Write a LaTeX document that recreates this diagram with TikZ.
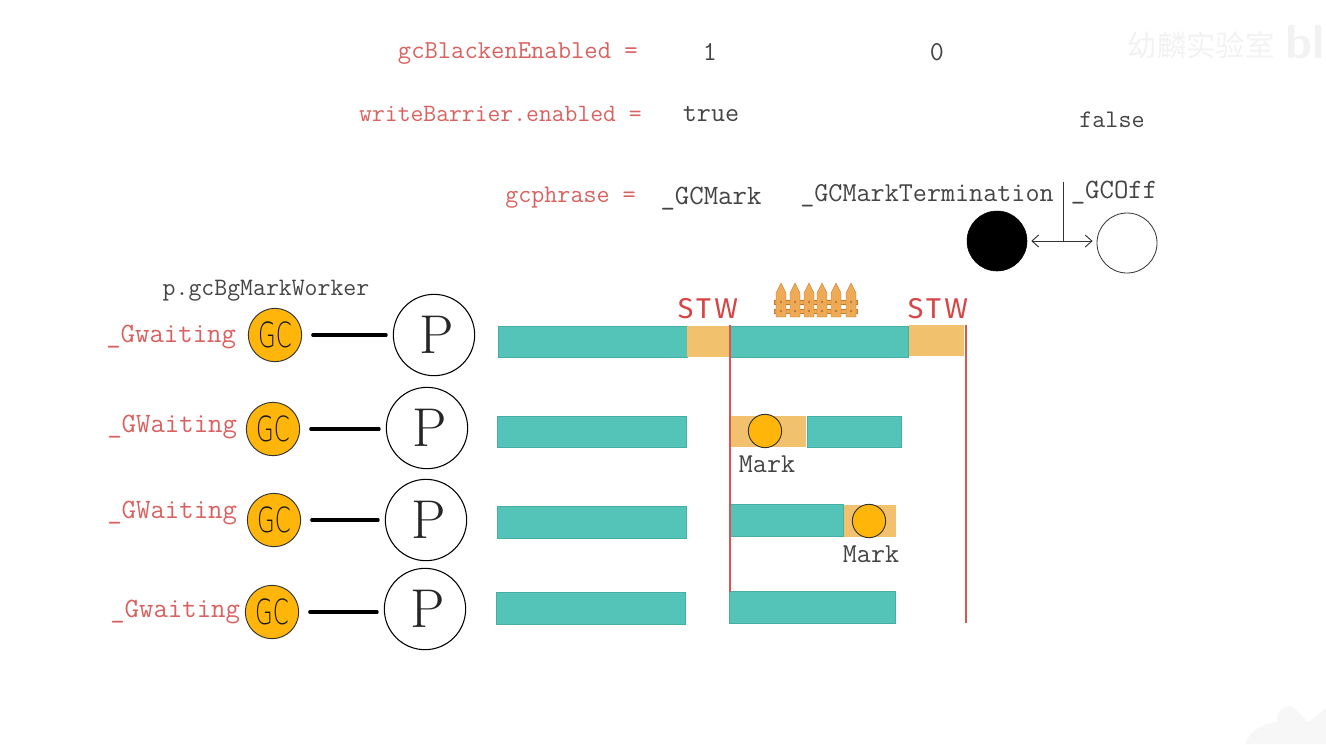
\documentclass[tikz,border=0pt]{standalone}
\usepackage{xcolor}
\usepackage{fontspec}
\usetikzlibrary{arrows.meta, positioning, calc}
\newfontfamily\cjkfont{Noto Sans CJK SC}
\newfontfamily\stwfont[LetterSpace=12]{Fira Sans}
\newfontfamily\gcfont[FakeStretch=0.66]{DejaVu Sans ExtraLight}
\definecolor{labelred}{RGB}{217, 98, 96}
\definecolor{linered}{RGB}{219, 84, 84}
\definecolor{stwred}{RGB}{214, 70, 70}
\definecolor{textgray}{RGB}{68, 68, 68}
\definecolor{barteal}{RGB}{84, 195, 184}
\definecolor{tealedge}{RGB}{70, 175, 165}
\definecolor{barorange}{RGB}{241, 193, 110}
\definecolor{gcyellow}{RGB}{255, 181, 10}
\definecolor{fenceorange}{RGB}{238, 170, 85}
\definecolor{fenceedge}{RGB}{190, 120, 50}
\tikzset{
    codetext/.style={text=textgray, inner sep=0pt, font=\ttfamily\fontsize{20.5}{22}\selectfont},
    redtext/.style={text=labelred, inner sep=0pt, font=\ttfamily\fontsize{19}{22}\selectfont},
    statetext/.style={text=labelred, inner sep=0pt, font=\ttfamily\fontsize{21}{22}\selectfont},
    stwtext/.style={text=stwred, inner sep=0pt, font=\stwfont\fontsize{21.5}{22}\selectfont},
    gcnode/.style={circle, draw=black!80, fill=gcyellow, line width=0.7pt, minimum size=40pt, inner sep=0pt,
        text=black!90, font=\gcfont\fontsize{26}{26}\selectfont},
    pnode/.style={circle, draw=black, fill=white, line width=0.8pt, minimum size=61pt, inner sep=0pt,
        text=black!85, font=\rmfamily\fontsize{41}{41}\selectfont},
    marknode/.style={circle, draw=black!80, fill=gcyellow, line width=0.7pt, minimum size=25pt, inner sep=0pt},
    tealbar/.style={draw=tealedge, fill=barteal, line width=0.4pt},
    orangebar/.style={fill=barorange},
    gcline/.style={line width=2.4pt, line cap=round, shorten >=5pt, shorten <=8pt},
    picket/.style={draw=fenceedge, fill=fenceorange, line width=0.3pt}
}

\begin{document}
\begin{tikzpicture}[x=0.75pt, y=-0.75pt]
    \useasboundingbox (0,0) rectangle (1326,744);

    % watermark
    \node[text=black!5, inner sep=0pt, font=\cjkfont\fontsize{22}{22}\selectfont] (mark) at (1201,45) {幼麟实验室};
    \node[text=black!5, inner sep=0pt, anchor=east, font=\sffamily\bfseries\fontsize{36}{36}\selectfont] (logo) at (1325,42) {bl};
    \fill[black!3] (1245,744) .. controls (1250,730) and (1265,722) .. (1278,722) .. controls (1274,712) and (1286,702) .. (1294,708)
        -- (1308,722) -- (1326,708) -- (1326,744) -- cycle;

    % top labels
    \node[redtext, anchor=east, font=\ttfamily\fontsize{19.4}{22}\selectfont] (blackenlabel) at (638,54) {gcBlackenEnabled =};
    \node[redtext, anchor=east, font=\ttfamily\fontsize{18.7}{22}\selectfont] (barrierlabel) at (642,114) {writeBarrier.enabled =};
    \node[redtext, anchor=east] (phaselabel) at (636,198) {gcphrase =};
    \node[codetext] (one) at (710,52) {1};
    \node[codetext] (zero) at (937,52) {0};
    \node[codetext] (truetext) at (711,114) {true};
    \node[codetext, font=\ttfamily\fontsize{19}{22}\selectfont] (falsetext) at (1112,120) {false};
    \node[codetext, font=\ttfamily\fontsize{21}{22}\selectfont] (gcmark) at (711,199) {\_GCMark};
    \node[codetext] (gcterm) at (927,196) {\_GCMarkTermination};
    \node[codetext, font=\ttfamily\fontsize{21}{22}\selectfont] (gcoff) at (1114,193) {\_GCOff};

    % black and white switch
    \node[circle, fill=black, draw=black, minimum size=45pt, inner sep=0pt] (blackdot) at (997,241) {};
    \node[circle, fill=white, draw=black!80, line width=0.6pt, minimum size=45pt, inner sep=0pt] (whitedot) at (1127,243) {};
    \coordinate (switchtop) at (1063,182);
    \coordinate (switchfoot) at (1063,241);
    \draw[black!80, line width=0.7pt] (switchtop) -- (switchfoot);
    \draw[black!80, line width=0.7pt, {Straight Barb[length=5pt,width=9pt]}-{Straight Barb[length=5pt,width=9pt]}, shorten <=3pt, shorten >=3pt]
        (blackdot.east) -- (blackdot.east -| whitedot.west);

    % red lines under the bars
    \coordinate (stwa) at (730,325);
    \coordinate (stwaend) at (730,592);
    \coordinate (stwb) at (966,325);
    \coordinate (stwbend) at (966,623);

    % bars
    \draw[tealbar] (498,326) rectangle (687,357);
    \fill[orangebar] (687,326) rectangle (730,357);
    \draw[tealbar] (730,326) rectangle (908,357);
    \fill[orangebar] (909,325) rectangle (964,356);
    \draw[tealbar] (497,416) rectangle (686,447);
    \fill[orangebar] (729,416) rectangle (806,447);
    \draw[tealbar] (807,416) rectangle (901,447);
    \draw[tealbar] (497,506) rectangle (686,538);
    \draw[tealbar] (730,504) rectangle (843,536);
    \fill[orangebar] (844,505) rectangle (896,537);
    \draw[tealbar] (496,592) rectangle (685,624);
    \draw[tealbar] (729,591) rectangle (895,623);

    \draw[linered, line width=1.3pt] (stwa) -- (stwaend);
    \draw[linered, line width=1.3pt] (stwb) -- (stwbend);

    \node[stwtext] (stwleft) at (708,309) {STW};
    \node[stwtext] (stwright) at (938,309) {STW};

    % fence
    \draw[picket] (774,300) rectangle (857,304);
    \draw[picket] (774,309) rectangle (857,313);
    \foreach \x in {781,795,809,822,836,851} {
        \draw[picket] (\x-5,317) -- (\x-5,293) -- (\x,283) -- (\x+5,293) -- (\x+5,317) -- cycle;
        \fill[fenceedge] (\x,302) circle (1pt) (\x,311) circle (1pt);
    }

    % workers
    \node[codetext, font=\ttfamily\fontsize{18.8}{22}\selectfont] (worker) at (266,291) {p.gcBgMarkWorker};

    \foreach \name/\gx/\gy/\px/\py/\lx/\ly/\txt in {
        a/275/335/434/335/106/337/\_Gwaiting,
        b/273/429/427/428/107/427/\_GWaiting,
        c/274/520/426/520/107/513/\_GWaiting,
        d/272/612/425/609/110/612/\_Gwaiting} {
        \node[statetext, anchor=west] (state\name) at (\lx,\ly) {\txt};
        \node[gcnode] (gc\name) at (\gx,\gy) {GC};
        \node[pnode] (p\name) at (\px,\py) {\hspace{4pt}\raisebox{-2.5pt}{P}};
        \draw[gcline] (gc\name.east) -- (gc\name.east -| p\name.west);
    }

    % running mark workers
    \node[marknode] (markb) at (765,431) {};
    \node[codetext] (marktextb) at (767,464) {Mark};
    \node[marknode] (markc) at (869,521) {};
    \node[codetext] (marktextc) at (871,554) {Mark};
\end{tikzpicture}
\end{document}
